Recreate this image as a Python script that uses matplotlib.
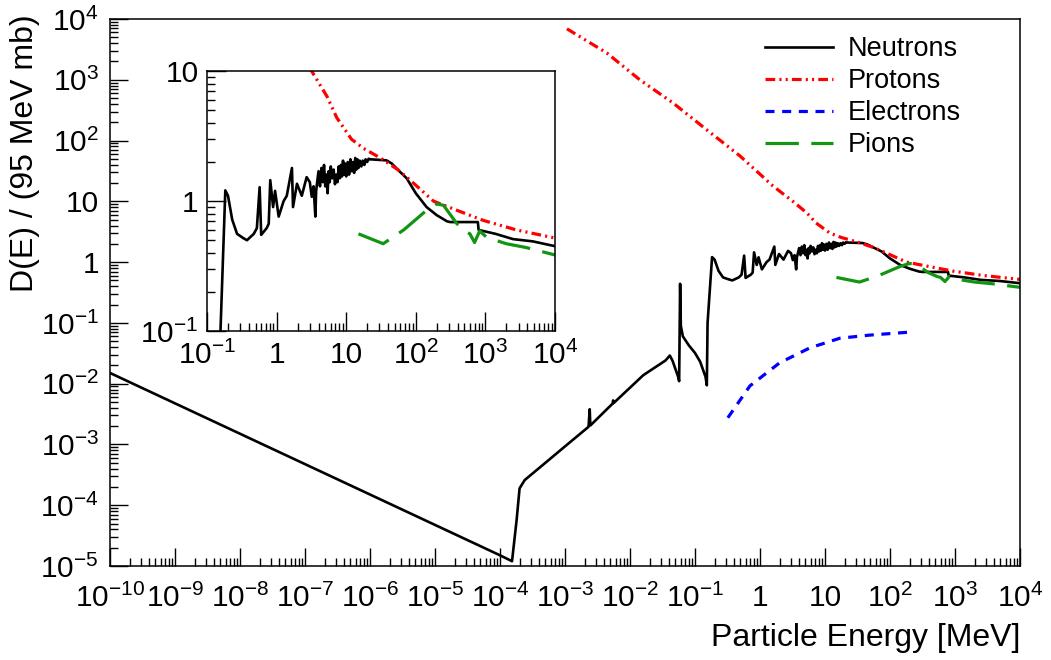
import numpy as np
import matplotlib
matplotlib.use("Agg")
import matplotlib.pyplot as plt
from matplotlib.ticker import LogLocator, FuncFormatter, NullFormatter

plt.rcParams['font.family'] = ['Liberation Sans', 'DejaVu Sans']
plt.rcParams['mathtext.fontset'] = 'custom'
plt.rcParams['mathtext.rm'] = 'Liberation Sans'
plt.rcParams['mathtext.it'] = 'Liberation Sans'
plt.rcParams['lines.scale_dashes'] = False

# Neutrons (MeV, D(E)/(95 MeV mb))
n_energy = [1e-10, 1e-8, 1e-6, 1e-4, 1.53e-4, 1.8e-4, 2.0e-4, 2.4e-4, 5e-4, 1e-3,
            2.3e-3, 2.4e-3, 2.45e-3, 5.4e-3, 5.5e-3, 5.6e-3, 0.016, 0.035, 0.041, 0.045,
            0.055, 0.057, 0.059, 0.0605, 0.065, 0.08, 0.1, 0.12, 0.145, 0.152,
            0.156, 0.183, 0.2, 0.23, 0.27, 0.33, 0.375, 0.47, 0.52, 0.57,
            0.6, 0.72, 0.77, 0.81, 0.89, 0.95, 1.07, 1.26, 1.4, 1.66,
            1.72, 1.96, 2.3, 2.7, 3.0, 3.2, 3.4, 3.6, 3.7, 3.8,
            4.0, 4.2, 4.4, 4.6, 4.8, 5.0, 5.2, 5.4, 5.6, 5.8,
            6.0, 6.3, 6.6, 6.9, 7.2, 7.5, 7.8, 8.1, 8.4, 8.7,
            9.0, 9.3, 9.6, 10.0, 10.5, 11.0, 11.5, 12.0, 12.5, 13.0,
            13.5, 14.0, 14.5, 15.0, 15.7, 16.5, 17.3, 18.2, 19.0, 20.0,
            21.0, 22.0, 38.0, 45.0, 55.0, 74.0, 100.0, 143.0, 200.0, 280.0,
            310.0, 780.0, 800.0, 1400.0, 2500.0, 4800.0, 1e4]
n_dose = [1.5e-2, 1.5e-3, 1.5e-4, 1.5e-5, 1.2e-5, 5.7e-5, 1.9e-4, 2.6e-4, 5.0e-4, 9.3e-4,
          1.95e-3, 3.8e-3, 2.05e-3, 4.7e-3, 5.3e-3, 4.8e-3, 0.0138, 0.024, 0.029, 0.024,
          0.013, 0.011, 0.44, 0.09, 0.06, 0.043, 0.032, 0.023, 0.013, 0.0094,
          0.1, 1.21, 1.1, 0.72, 0.56, 0.52, 0.5, 0.56, 0.62, 1.28,
          0.55, 0.62, 0.67, 1.45, 0.9, 1.2, 0.76, 1.0, 1.1, 1.8,
          0.9, 1.36, 1.1, 1.53, 1.4, 1.08, 1.3, 0.76, 1.2, 1.36,
          1.7, 1.3, 1.8, 1.4, 1.9, 1.3, 1.6, 1.15, 1.7, 1.4,
          1.85, 1.5, 1.75, 1.35, 1.6, 1.4, 1.85, 1.5, 1.9, 1.55,
          2.05, 1.6, 1.95, 1.55, 2.0, 1.6, 2.1, 1.7, 2.0, 1.65,
          2.15, 1.75, 2.1, 1.8, 2.05, 1.85, 2.05, 1.9, 2.1, 2.0,
          2.12, 2.1, 2.06, 1.95, 1.75, 1.5, 1.15, 0.9, 0.78, 0.7,
          0.69, 0.69, 0.6, 0.56, 0.51, 0.49, 0.45]

# Protons
p_energy = [1.07e-3, 4.4e-3, 0.0143, 0.046, 0.153, 0.49, 1.58, 3.2, 5.3, 7.3,
            11.9, 17.7, 31.0, 55.0, 83.0, 180.0, 390.0, 940.0, 2800.0, 1e4]
p_dose = [6900, 2760, 990, 415, 149, 56, 17.9, 10.0, 6.4, 4.4,
          3.0, 2.55, 2.15, 1.75, 1.45, 1.0, 0.85, 0.71, 0.6, 0.52]

# Electrons
e_energy = [0.32, 0.70, 2.0, 5.9, 17.0, 49.0, 219.0]
e_dose = [2.75e-3, 9.2e-3, 0.022, 0.039, 0.056, 0.063, 0.071]

# Pions
pi_energy = [15.0, 34.0, 67.0, 143.0, 200.0, 250.0, 390.0, 530.0, 600.0, 700.0,
             830.0, 1030.0, 1400.0, 2000.0, 3800.0, 1e4]
pi_dose = [0.56, 0.47, 0.6, 0.85, 0.95, 0.93, 0.67, 0.58, 0.56, 0.48,
           0.59, 0.53, 0.5, 0.47, 0.44, 0.385]


def root_fmt(v, pos):
    e = int(round(np.log10(v)))
    if e == 0:
        return '1'
    if e == 1:
        return '10'
    return r'$10^{%d}$' % e


def draw_curves(ax):
    ax.plot(n_energy, n_dose, color='black', lw=1.9, label='Neutrons')
    ax.plot(p_energy, p_dose, color='red', lw=2.3, dashes=(7, 3, 1.5, 3, 1.5, 3), label='Protons')
    ax.plot(e_energy, e_dose, color='blue', lw=2.3, dashes=(6.5, 5.5), label='Electrons')
    ax.plot(pi_energy, pi_dose, color='#129512', lw=2.3, dashes=(24, 9), label='Pions')


def style_axes(ax, major, minor, xpad, ypad, size):
    ax.set_xscale('log')
    ax.set_yscale('log')
    ax.xaxis.set_major_locator(LogLocator(base=10, numticks=30))
    ax.yaxis.set_major_locator(LogLocator(base=10, numticks=30))
    ax.xaxis.set_minor_locator(LogLocator(base=10, subs=np.arange(2, 10), numticks=300))
    ax.yaxis.set_minor_locator(LogLocator(base=10, subs=np.arange(2, 10), numticks=300))
    ax.xaxis.set_major_formatter(FuncFormatter(root_fmt))
    ax.yaxis.set_major_formatter(FuncFormatter(root_fmt))
    ax.xaxis.set_minor_formatter(NullFormatter())
    ax.yaxis.set_minor_formatter(NullFormatter())
    ax.tick_params(which='both', direction='in', top=False, right=False, width=1.0)
    ax.tick_params(which='major', length=major, labelsize=size)
    ax.tick_params(which='minor', length=minor)
    ax.tick_params(axis='x', pad=xpad)
    ax.tick_params(axis='y', pad=ypad)
    for s in ax.spines.values():
        s.set_linewidth(1.1)


fig = plt.figure(figsize=(10.51, 6.6), dpi=100)
ax = fig.add_axes([0.1047, 0.1424, 0.8658, 0.8288])
draw_curves(ax)
ax.set_xlim(1e-10, 1e4)
ax.set_ylim(1e-5, 1e4)
style_axes(ax, 13, 6, 13, 8, 21.5)
ax.set_xlabel('Particle Energy [MeV]', fontsize=23, loc='right')
ax.xaxis.set_label_coords(1.0, -0.105)
ax.set_ylabel('D(E) / (95 MeV mb)', fontsize=23, loc='top')
ax.yaxis.set_label_coords(-0.0765, 1.009)

leg = ax.legend(loc='upper left', bbox_to_anchor=(0.728, 0.945), bbox_transform=fig.transFigure,
                frameon=False, fontsize=19.5, handlelength=2.5, handletextpad=0.55,
                labelspacing=0.22, borderpad=0, borderaxespad=0)

ins = fig.add_axes([0.197, 0.4985, 0.331, 0.3935])
draw_curves(ins)
ins.set_xlim(0.1, 1e4)
ins.set_ylim(0.1, 10)
style_axes(ins, 14, 6, 7, 6, 21.5)

fig.savefig('out.png', dpi=100)
